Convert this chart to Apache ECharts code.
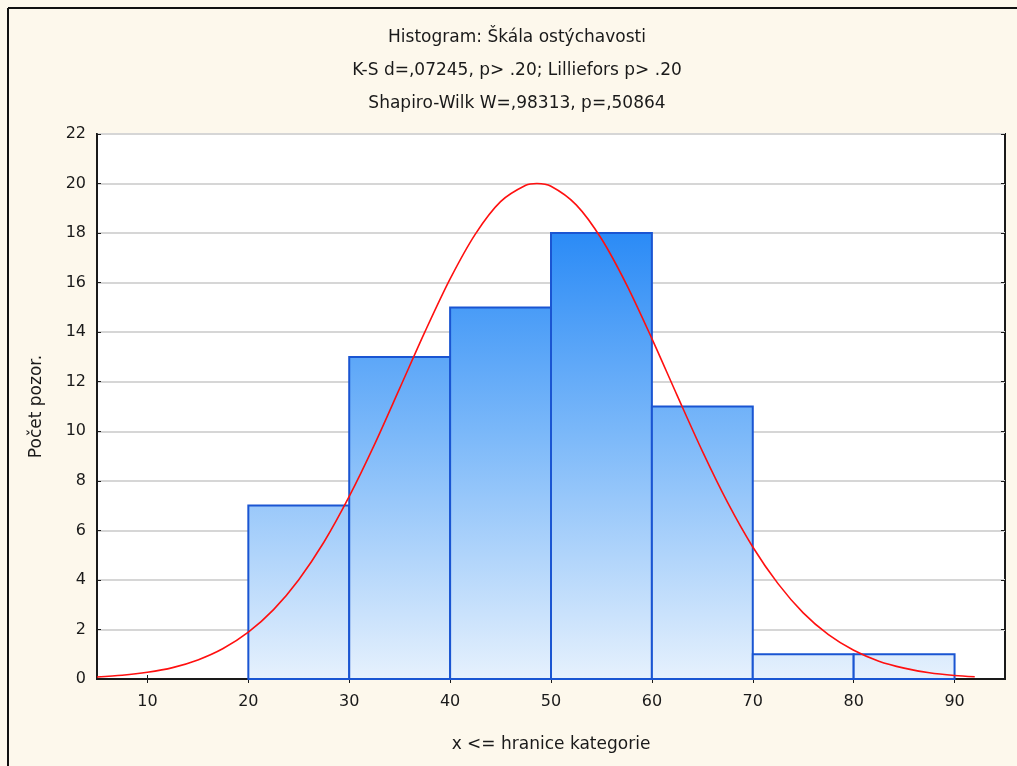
<!DOCTYPE html>
<html>
<head>
<meta charset="utf-8">
<script src="https://cdn.jsdelivr.net/npm/echarts@6/dist/echarts.min.js"></script>
<style>
  html, body { margin: 0; padding: 0; background: #fdf8ec; }
  #chart { width: 1017px; height: 766px; }
</style>
</head>
<body>
<div id="chart"></div>
<script>
// Histogram bins (upper class limits) and observed counts
const binStarts = [20, 30, 40, 50, 60, 70, 80];
const binEnds   = [30, 40, 50, 60, 70, 80, 90];
const counts    = [7, 13, 15, 18, 11, 1, 1];

// Fitted normal curve (expected counts)
const curveX = [5, 7.5, 10, 12.5, 15, 17.5, 20, 22.5, 25, 27.5, 30, 32.5, 35, 37.5, 40, 42.5, 45, 47.5, 48.6,
                50, 52.5, 55, 57.5, 60, 62.5, 65, 67.5, 70, 72.5, 75, 77.5, 80, 82.5, 85, 87.5, 90, 92];
const curveY = [0.08, 0.15, 0.27, 0.46, 0.77, 1.23, 1.89, 2.8, 4.01, 5.53, 7.37, 9.46, 11.73, 14.01, 16.15, 17.96, 19.27, 19.93, 20.0,
                19.89, 19.14, 17.77, 15.91, 13.74, 11.45, 9.2, 7.13, 5.33, 3.85, 2.67, 1.79, 1.16, 0.72, 0.44, 0.25, 0.14, 0.09];

const xTickValues = [10, 20, 30, 40, 50, 60, 70, 80, 90];

const titleLines = [
  'Histogram: Škála ostýchavosti',
  'K-S d=,07245, p> .20; Lilliefors p> .20',
  'Shapiro-Wilk W=,98313, p=,50864'
];
const xName = 'x <= hranice kategorie';
const yName = 'Počet pozor.';

const FONT = '"DejaVu Sans", Verdana, sans-serif';
const TEXT = '#1a1a1a';

const barData = binStarts.map((s, i) => [s, binEnds[i], counts[i]]);
const curveData = curveX.map((x, i) => [x, curveY[i]]);

const chart = echarts.init(document.getElementById('chart'));

const barFill = new echarts.graphic.LinearGradient(0, 233, 0, 679, [
  { offset: 0, color: '#2b8bf6' },
  { offset: 0.45, color: '#7bb8f9' },
  { offset: 1, color: '#e6f1fd' }
], true);

chart.setOption({
  backgroundColor: '#fdf8ec',
  animation: false,
  textStyle: { fontFamily: FONT },
  graphic: [
    // window frame lines (top and left)
    { type: 'line', shape: { x1: 8, y1: 8, x2: 1017, y2: 8 }, style: { stroke: '#111', lineWidth: 2 } },
    { type: 'line', shape: { x1: 8, y1: 8, x2: 8, y2: 766 }, style: { stroke: '#111', lineWidth: 2 } }
  ].concat(titleLines.map((t, i) => ({
    type: 'text', x: 517, y: 38 + i * 33,
    style: { text: t, fill: TEXT, font: '17px ' + FONT, textAlign: 'center', textVerticalAlign: 'middle' }
  }))),
  grid: {
    left: 97, right: 12, top: 134, bottom: 87,
    show: true, backgroundColor: '#ffffff', borderColor: '#1a1a1a', borderWidth: 2
  },
  xAxis: [{
    type: 'value', min: 5, max: 95,
    name: xName, nameLocation: 'middle', nameGap: 57,
    nameTextStyle: { fontSize: 17, color: TEXT, fontFamily: FONT },
    axisLine: { show: true, lineStyle: { color: '#1a1a1a', width: 2 } },
    axisTick: { show: true, inside: true, length: 4, customValues: xTickValues, lineStyle: { color: '#1a1a1a' } },
    axisLabel: { customValues: xTickValues, fontSize: 16, color: TEXT, margin: 15, fontFamily: FONT },
    splitLine: { show: false }
  }, {
    type: 'value', min: 5, max: 95, position: 'top',
    axisLine: { show: false },
    axisTick: { show: true, inside: true, length: 4, customValues: xTickValues, lineStyle: { color: '#1a1a1a' } },
    axisLabel: { show: false },
    splitLine: { show: false }
  }],
  yAxis: [{
    type: 'value', min: 0, max: 22, interval: 2,
    name: yName, nameLocation: 'middle', nameGap: 52, nameRotate: 90,
    nameTextStyle: { fontSize: 17, color: TEXT, fontFamily: FONT },
    axisLine: { show: true, lineStyle: { color: '#1a1a1a', width: 2 } },
    axisTick: { show: true, inside: true, length: 4, lineStyle: { color: '#1a1a1a' } },
    axisLabel: { fontSize: 16, color: TEXT, margin: 11, fontFamily: FONT },
    splitLine: { show: true, lineStyle: { color: '#d6d6d6', width: 2 } }
  }, {
    type: 'value', min: 0, max: 22, interval: 2, position: 'right',
    axisLine: { show: false },
    axisTick: { show: true, inside: true, length: 4, lineStyle: { color: '#1a1a1a' } },
    axisLabel: { show: false },
    splitLine: { show: false }
  }],
  series: [{
    type: 'custom',
    xAxisIndex: 0, yAxisIndex: 0,
    data: barData,
    encode: { x: [0, 1], y: 2 },
    renderItem: function (params, api) {
      const p0 = api.coord([api.value(0), 0]);
      const p1 = api.coord([api.value(1), api.value(2)]);
      return {
        type: 'rect',
        shape: { x: p0[0], y: p1[1], width: p1[0] - p0[0], height: p0[1] - p1[1] },
        style: { fill: barFill, stroke: '#1a55d2', lineWidth: 2 }
      };
    },
    z: 2
  }, {
    type: 'line',
    xAxisIndex: 0, yAxisIndex: 0,
    data: curveData,
    smooth: 0.3,
    showSymbol: false,
    lineStyle: { color: '#ff1010', width: 1.6 },
    z: 3
  }]
});
</script>
</body>
</html>
